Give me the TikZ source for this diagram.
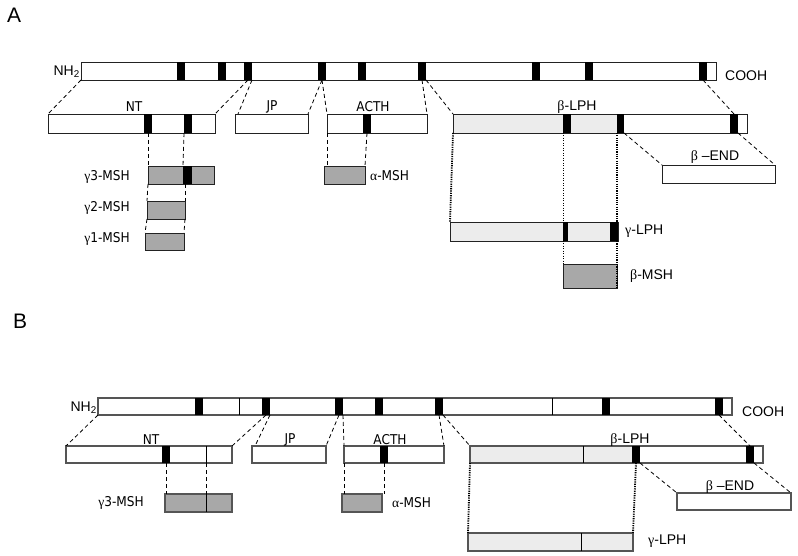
\documentclass[tikz,border=0pt]{standalone}
\usepackage{fontspec}
\setmainfont{Liberation Sans}
\newfontfamily\tah{DejaVu Sans Condensed}
\newfontfamily\gr{Liberation Serif}
\usetikzlibrary{calc}
\definecolor{gfill}{HTML}{A8A8A8}
\definecolor{lfill}{HTML}{ECECEC}
\definecolor{edgeA}{HTML}{222222}
\definecolor{edgeB}{HTML}{555555}
\tikzset{
  segbox/.style={draw=edgeA,line width=0.9pt,inner sep=0pt,outer sep=0pt,fill=white},
  segB/.style={draw=edgeB,line width=1.1pt},
  grey/.style={fill=gfill},
  light/.style={fill=lfill},
  bandbox/.style={fill=black,draw=none,inner sep=0pt,outer sep=0pt},
  dsh/.style={draw=black,line width=0.8pt,dash pattern=on 4pt off 3pt},
  dotthick/.style={draw=black,line width=1.8pt,dash pattern=on 1.2pt off 1.1pt},
  dotthin/.style={draw=black,line width=0.8pt,dash pattern=on 1pt off 1.5pt},
  divider/.style={draw=black,line width=0.9pt},
  lblT/.style={font=\tah\fontsize{13.5}{14}\selectfont,inner sep=0pt},
  lblA/.style={font=\fontsize{14}{15}\selectfont,inner sep=0pt},
  panel/.style={font=\fontsize{21}{22}\selectfont,inner sep=0pt},
}
\newcommand\seg[6][]{\node[segbox,#1,minimum width={(#5-#3)*1pt},minimum height={(#6-#4)*1pt},anchor=north west] (#2) at (#3,#4) {};}
\newcommand\band[5]{\node[bandbox,minimum width={(#3-#2)*1pt},minimum height={(#5-#4)*1pt},anchor=north west] (#1) at (#2,#4) {};}
\newcommand\lightpart[5]{\node[fill=lfill,draw=none,inner sep=0pt,minimum width={(#3-#2)*1pt},minimum height={(#5-#4)*1pt},anchor=north west] (#1) at (#2,#4) {};}
\newcommand\g{\gr}
\begin{document}
\begin{tikzpicture}[x=1pt,y=-1pt]
\fill[white] (0,0) rectangle (798,556);
\useasboundingbox (0,0) rectangle (798,556);

% ================= Panel A =================
\node[panel,anchor=north west] (labA) at (7,8) {A};
\seg{mainA}{81}{62}{716}{80}
\band{aA1}{177}{185}{62}{80}
\band{aA2}{218}{226}{62}{80}
\band{aA3}{244}{252}{62}{80}
\band{aA4}{318}{326}{62}{80}
\band{aA5}{358}{366}{62}{80}
\band{aA6}{418}{426}{62}{80}
\band{aA7}{532}{540}{62}{80}
\band{aA8}{585}{593}{62}{80}
\band{aA9}{699}{707}{62}{80}
\node[lblA,anchor=east] (nhA) at (80,72) {NH\textsubscript{2}};
\node[lblA,anchor=west] (coA) at (725,76) {COOH};

\seg{ntA}{48}{114}{215}{133}
\band{ntA1}{144}{152}{114}{133}
\band{ntA2}{184}{192}{114}{133}
\seg{jpA}{235}{114}{308}{133}
\seg{acthA}{327}{114}{427}{133}
\band{acthA1}{363}{371}{114}{133}
\seg{lphA}{453}{114}{747}{133}
\lightpart{lphAl}{453.5}{617}{114.5}{132.5}
\draw[edgeA,line width=0.9pt] (lphA.north west) rectangle (lphA.south east);
\band{lphA1}{563}{571}{114}{133}
\band{lphA2}{617}{624}{114}{133}
\band{lphA3}{730}{738}{114}{133}
\node[lblT] (tntA) at (134,107) {NT};
\node[lblT] (tjpA) at (272,107) {JP};
\node[lblT] (tacA) at (373,107) {ACTH};
\node[lblA] (tlphA) at (577,107) {{\g β}-LPH};

\seg{endA}{662}{165}{775}{183}
\node[lblA] (tendA) at (715,157) {{\g β} –END};

\seg[grey]{g3A}{148}{166}{214}{184}
\band{g3A1}{183}{192}{166}{184}
\seg[grey]{g2A}{147}{201}{185}{219}
\seg[grey]{g1A}{145}{233}{184}{250}
\node[lblT,anchor=east] (tg3A) at (130,177) {{\g γ}3-MSH};
\node[lblT,anchor=east] (tg2A) at (130,208) {{\g γ}2-MSH};
\node[lblT,anchor=east] (tg1A) at (130,239) {{\g γ}1-MSH};

\seg[grey]{amshA}{324}{166}{365}{184}
\node[lblT,anchor=west] (tamA) at (370,176) {{\g α}-MSH};

\seg[light]{glphA}{450}{222}{618}{241}
\band{glphA1}{563}{568}{222}{241}
\band{glphA2}{610}{618}{222}{241}
\node[lblA,anchor=west] (tglA) at (625,231) {{\g γ}-LPH};

\seg[grey]{bmshA}{563}{264}{617}{288}
\node[lblA,anchor=west] (tbmA) at (630,276) {{\g β}-MSH};

% connectors A
\draw[dsh] (mainA.south west) -- (ntA.north west);
\draw[dsh] (aA3.south) -- (ntA.north east);
\draw[dsh] (aA3.south east) -- ($(jpA.north west)+(3,0)$);
\draw[dsh] (aA4.south) -- (jpA.north east);
\draw[dsh] (aA4.south) -- (acthA.north west);
\draw[dsh] (aA6.south) -- (acthA.north east);
\draw[dsh] (aA6.south east) -- (lphA.north west);
\draw[dsh] (aA9.south) -- (lphA3.north);
\draw[dsh] (lphA2.south east) -- (endA.north west);
\draw[dsh] (lphA3.south east) -- (endA.north east);
\draw[dsh] (ntA1.south) -- (g3A.north west);
\draw[dsh] (ntA2.south west) -- (g3A1.north west);
\draw[dsh] (g3A.south west) -- (g2A.north west);
\draw[dsh] (g2A.north east |- g3A.south) -- (g2A.north east);
\draw[dsh] (g2A.south west) -- (g1A.north west);
\draw[dsh] (g2A.south east) -- (g1A.north east);
\draw[dsh] (acthA.south west) -- (acthA.south west |- amshA.north);
\draw[dsh] (acthA1.south) -- (amshA.north east);
\draw[dotthick] (lphA.south west) -- (glphA.north west);
\draw[dotthick] (lphA2.south west) -- (bmshA.south east);
\draw[dotthin] (lphA1.south west) -- (bmshA.north west);

% ================= Panel B =================
\node[panel,anchor=north west] (labB) at (13,314) {B};
\seg[segB]{mainB}{98}{398}{732}{415}
\draw[divider] (239,398) coordinate (mBd1) -- (239,415);
\draw[divider] (552,398) coordinate (mBd2) -- (552,415);
\band{bB1}{195}{203}{398}{415}
\band{bB2}{262}{270}{398}{415}
\band{bB3}{335}{343}{398}{415}
\band{bB4}{375}{383}{398}{415}
\band{bB5}{435}{443}{398}{415}
\band{bB6}{602}{610}{398}{415}
\band{bB7}{715}{723}{398}{415}
\node[lblA,anchor=east] (nhB) at (97,408) {NH\textsubscript{2}};
\node[lblA,anchor=west] (coB) at (742,412) {COOH};

\seg[segB]{ntB}{66}{446}{232}{463}
\draw[divider] (206,446) -- (206,463) coordinate (ntBd);
\band{ntB1}{162}{170}{446}{463}
\seg[segB]{jpB}{252}{446}{326}{463}
\seg[segB]{acthB}{344}{446}{444}{463}
\band{acthB1}{380}{388}{446}{463}
\seg[segB]{lphB}{470}{446}{763}{463}
\lightpart{lphBl}{470.5}{632}{446.5}{462.5}
\draw[edgeB,line width=1.1pt] (lphB.north west) rectangle (lphB.south east);
\draw[divider] (583,446) -- (583,463);
\band{lphB1}{632}{640}{446}{463}
\band{lphB2}{746}{754}{446}{463}
\node[lblT] (tntB) at (151,440) {NT};
\node[lblT] (tjpB) at (290,440) {JP};
\node[lblT] (tacB) at (390,440) {ACTH};
\node[lblA] (tlphB) at (630,440) {{\g β}-LPH};

\seg[segB]{endB}{677}{493}{791}{510}
\node[lblA] (tendB) at (730,487) {{\g β} –END};

\seg[segB,grey]{g3B}{165}{494}{232}{512}
\draw[divider] (206,494) coordinate (g3Bd) -- (206,512);
\node[lblT,anchor=east] (tg3B) at (144,503) {{\g γ}3-MSH};
\seg[segB,grey]{amshB}{342}{494}{382}{512}
\node[lblT,anchor=west] (tamB) at (392,503) {{\g α}-MSH};

\seg[segB,light]{glphB}{468}{533}{633}{551}
\draw[divider] (581,533) -- (581,551);
\node[lblA,anchor=west] (tglB) at (648,541) {{\g γ}-LPH};

% connectors B
\draw[dsh] (mainB.south west) -- (ntB.north west);
\draw[dsh] (bB2.south) -- (ntB.north east);
\draw[dsh] (bB2.south east) -- ($(jpB.north west)+(3,0)$);
\draw[dsh] (bB3.south) -- (jpB.north east);
\draw[dsh] (bB3.south east) -- (acthB.north west);
\draw[dsh] (bB5.south) -- (acthB.north east);
\draw[dsh] (bB5.south east) -- (lphB.north west);
\draw[dsh] (bB7.south) -- (lphB2.north);
\draw[dsh] (lphB1.south east) -- (endB.north west);
\draw[dsh] (lphB2.south east) -- (endB.north east);
\draw[dsh] (ntB1.south) -- (ntB1.south |- g3B.north);
\draw[dsh] (ntBd) -- (g3Bd);
\draw[dsh] (acthB.south west) -- (acthB.south west |- amshB.north);
\draw[dsh] (acthB1.south) -- (acthB1.south |- amshB.north);
\draw[dotthick] (lphB.south west) -- (glphB.north west);
\draw[dotthick] (lphB1.south) -- (glphB.north east);
\end{tikzpicture}
\end{document}
